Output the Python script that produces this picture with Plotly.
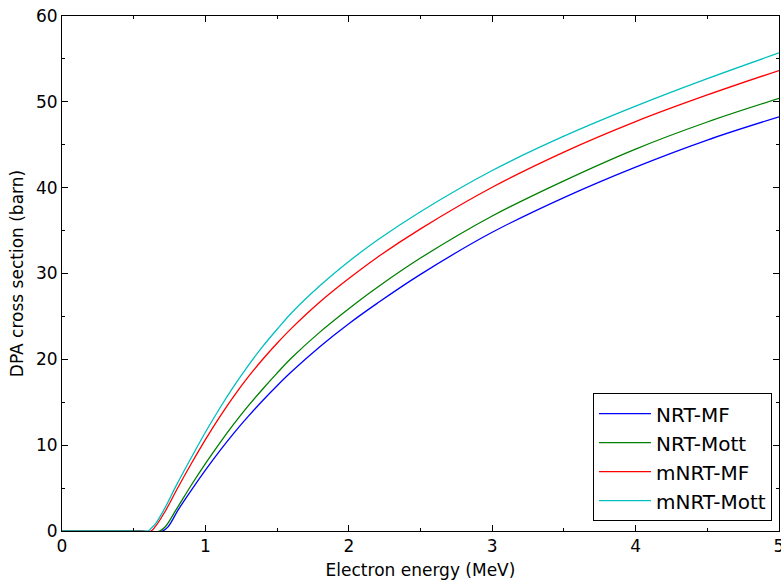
import plotly.graph_objects as go

# NRT-MF (blue)
x_nrt_mf = [0, 0.5, 0.70, 0.74, 0.81, 0.9, 1.0, 1.1, 1.2, 1.3, 1.4, 1.5, 1.6, 1.8, 2.0, 2.2, 2.5, 3.0, 3.5, 4.0, 4.5, 5.0]
y_nrt_mf = [0, 0, 0, 0.5, 2.45, 4.7, 7.08, 9.33, 11.43, 13.38, 15.21, 16.93, 18.55, 21.5, 24.15, 26.55, 29.9, 34.8, 38.85, 42.4, 45.55, 48.25]

# NRT-Mott (green)
x_nrt_mott = [0, 0.5, 0.68, 0.72, 0.795, 0.9, 1.0, 1.1, 1.2, 1.3, 1.4, 1.5, 1.6, 1.8, 2.0, 2.2, 2.5, 3.0, 3.5, 4.0, 4.5, 5.0]
y_nrt_mott = [0, 0, 0, 0.5, 2.45, 5.3, 7.85, 10.25, 12.5, 14.6, 16.55, 18.4, 20.15, 23.2, 25.9, 28.4, 31.8, 36.7, 40.8, 44.5, 47.65, 50.4]

# mNRT-MF (red)
x_mnrt_mf = [0, 0.5, 0.62, 0.65, 0.725, 0.8, 0.9, 1.0, 1.1, 1.2, 1.3, 1.4, 1.5, 1.6, 1.8, 2.0, 2.2, 2.5, 3.0, 3.5, 4.0, 4.5, 5.0]
y_mnrt_mf = [0, 0, 0, 0.5, 2.45, 4.8, 7.8, 10.65, 13.3, 15.75, 17.98, 20.01, 21.88, 23.61, 26.71, 29.41, 31.9, 35.2, 40.05, 44.15, 47.7, 50.8, 53.65]

# mNRT-Mott (cyan)
x_mnrt_mott = [0, 0.5, 0.6, 0.62, 0.65, 0.71, 0.8, 0.9, 1.0, 1.1, 1.2, 1.3, 1.4, 1.5, 1.6, 1.8, 2.0, 2.2, 2.5, 3.0, 3.5, 4.0, 4.5, 5.0]
y_mnrt_mott = [0, 0, 0, 0.3, 0.8, 2.45, 5.4, 8.5, 11.5, 14.3, 16.9, 19.3, 21.5, 23.5, 25.4, 28.6, 31.4, 33.9, 37.2, 42.0, 46.0, 49.5, 52.7, 55.7]

series = [
    ("NRT-MF", x_nrt_mf, y_nrt_mf, "#0000ff"),
    ("NRT-Mott", x_nrt_mott, y_nrt_mott, "#008000"),
    ("mNRT-MF", x_mnrt_mf, y_mnrt_mf, "#ff0000"),
    ("mNRT-Mott", x_mnrt_mott, y_mnrt_mott, "#00bfbf"),
]

fig = go.Figure()
for name, xs, ys, col in series:
    fig.add_trace(go.Scatter(x=xs, y=ys, mode="lines", name=name,
                             line=dict(color=col, width=1.3, shape="spline", smoothing=1.0)))

font = "DejaVu Sans, Arial, sans-serif"
axis_common = dict(
    showgrid=False, zeroline=False, showline=True, linecolor="black", linewidth=1,
    mirror="allticks", ticks="inside", ticklen=6, tickwidth=1, tickcolor="black",
    tickfont=dict(family=font, size=17, color="black"), automargin=False,
    ticklabeloverflow="allow",
)
fig.update_xaxes(range=[0, 5], dtick=1, tick0=0,
                 minor=dict(ticks="inside", ticklen=3, dtick=0.5, tickcolor="black"),
                 title=dict(text="Electron energy (MeV)", font=dict(family=font, size=17, color="black"), standoff=8),
                 **axis_common)
fig.update_yaxes(range=[0, 60], dtick=10, tick0=0,
                 minor=dict(ticks="inside", ticklen=3, dtick=5, tickcolor="black"),
                 title=dict(text="DPA cross section (barn)", font=dict(family=font, size=17, color="black"), standoff=8),
                 **axis_common)

fig.update_layout(
    width=781, height=586,
    margin=dict(l=62, r=2, t=16, b=55),
    paper_bgcolor="white", plot_bgcolor="white",
    font=dict(family=font, color="black"),
    legend=dict(x=0.9902, y=0.019, xanchor="right", yanchor="bottom",
                bordercolor="black", borderwidth=1, bgcolor="white", itemwidth=52,
                font=dict(family=font, size=20, color="black")),
)

post = ("document.body.style.margin='0';document.body.style.padding='0';"
        "document.body.style.overflow='hidden';"
        "var gd=document.getElementById('{plot_id}');"
        "Plotly.relayout(gd,{width:781,height:586});")

fig.write_html("out.html", config={"responsive": False, "displayModeBar": False}, post_script=post)
